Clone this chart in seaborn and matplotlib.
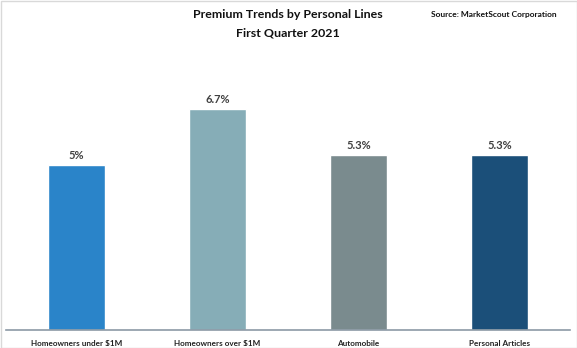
import matplotlib
matplotlib.use("Agg")
import matplotlib.pyplot as plt
import seaborn as sns
import pandas as pd

categories = ["Homeowners under $1M", "Homeowners over $1M", "Automobile", "Personal Articles"]
values = [5.0, 6.7, 5.3, 5.3]
value_labels = ["5%", "6.7%", "5.3%", "5.3%"]
colors = ["#2A84C9", "#86ADB7", "#7A8B8E", "#1B4F79"]

sns.set_style("white")
plt.rcParams['font.family'] = ['Lato', 'DejaVu Sans']

df = pd.DataFrame({"category": categories, "value": values})

fig = plt.figure(figsize=(5.77, 3.48), dpi=100)
ax = fig.add_axes([6/577, 18/348, 564/577, 264/348])
sns.barplot(data=df, x="category", y="value", hue="category", palette=colors,
            width=0.40, legend=False, ax=ax, saturation=1)
ax.set_ylim(0, 8)
ax.set_xlim(-0.5, 3.5)
ax.set_xlabel("")
ax.set_ylabel("")
ax.set_yticks([])
for s in ["top", "right", "left"]:
    ax.spines[s].set_visible(False)
ax.spines["bottom"].set_color("#8C9AA6")
ax.spines["bottom"].set_linewidth(1.2)
ax.tick_params(axis="x", length=0, pad=7)
for lab in ax.get_xticklabels():
    lab.set_fontsize(5.9)
    lab.set_fontweight("bold")
    lab.set_color("#222222")

for i, (v, t) in enumerate(zip(values, value_labels)):
    ax.text(i, v + 0.12, t, ha="center", va="bottom", fontsize=8,
            fontweight="bold", color="#404040")

fig.text(288/577, 1 - 15/348, "Premium Trends by Personal Lines", ha="center", va="center",
         fontsize=8.9, fontweight="bold", color="#111111")
fig.text(288/577, 1 - 33/348, "First Quarter 2021", ha="center", va="center",
         fontsize=8.9, fontweight="bold", color="#111111")
fig.text(557/577, 1 - 15/348, "Source: MarketScout Corporation", ha="right", va="center",
         fontsize=6, fontweight="bold", color="#111111")

border = plt.Rectangle((0.5/577, 0.5/348), 576/577, 347/348, transform=fig.transFigure,
                       fill=False, edgecolor="#D9D9D9", linewidth=1)
fig.patches.append(border)

fig.savefig("out.png", dpi=100)
